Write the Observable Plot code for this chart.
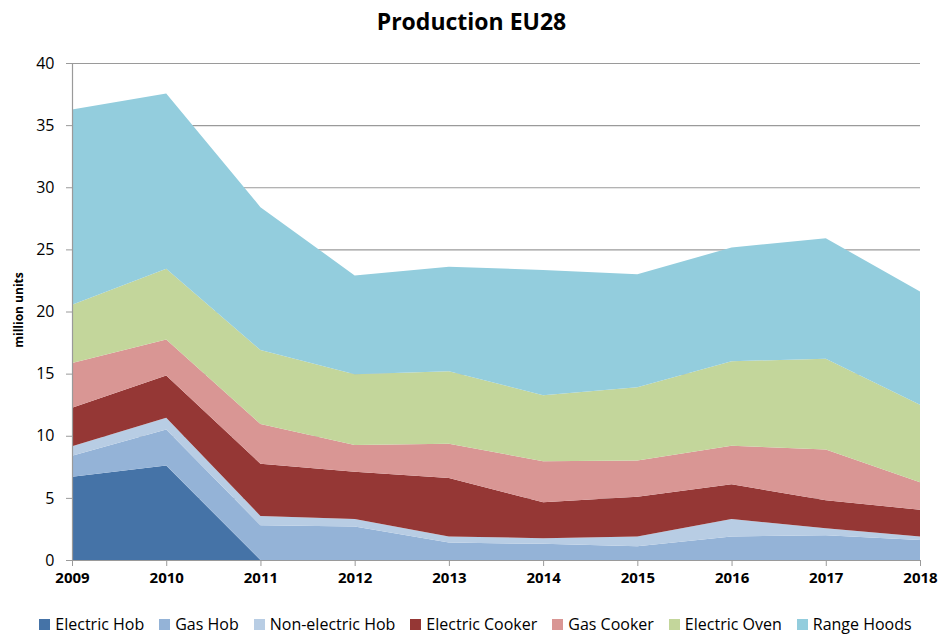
<!DOCTYPE html>
<html>
<head>
<meta charset="utf-8">
<script src="https://cdn.jsdelivr.net/npm/d3@7"></script>
<script src="https://cdn.jsdelivr.net/npm/@observablehq/plot@0.6"></script>
<style>
  body { margin: 0; background: #fff; font-family: "Open Sans", sans-serif; }
  #wrap { position: relative; width: 943px; height: 634px; overflow: hidden; }
  #title { position: absolute; top: 5px; left: 0; width: 943px; text-align: center; font-size: 23px; font-weight: bold; color: #000; }
  #chart { position: absolute; top: 40px; left: 0; }
  #legend { position: absolute; top: 615px; left: 0; width: 943px; height: 18px; display: flex; justify-content: center; gap: 15px; font-size: 16px; line-height: 18px; color: #000; padding-left: 8px; box-sizing: border-box;}
  .item { display: flex; align-items: center; gap: 5px; white-space: nowrap; }
  .sw { width: 11px; height: 11px; display: inline-block; }
  #ylab { position: absolute; left: 18px; top: 310px; transform: translate(-50%, -50%) rotate(-90deg); font-size: 12px; font-weight: bold; white-space: nowrap; }
</style>
</head>
<body>
<div id="wrap">
  <div id="title">Production EU28</div>
  <div id="ylab">million units</div>
  <div id="chart"></div>
  <div id="legend"></div>
</div>
<script>
const years = [2009, 2010, 2011, 2012, 2013, 2014, 2015, 2016, 2017, 2018];
const seriesNames = ["Electric Hob", "Gas Hob", "Non-electric Hob", "Electric Cooker", "Gas Cooker", "Electric Oven", "Range Hoods"];
const colors = ["#4573a7", "#94b3d7", "#b8cde4", "#953735", "#d99694", "#c3d69b", "#93cddd"];

const electricHob     = [6.7, 7.6, 0, 0, 0, 0, 0, 0, 0, 0];
const gasHob          = [1.7, 2.9, 2.8, 2.7, 1.4, 1.3, 1.1, 1.9, 2.0, 1.6];
const nonElectricHob  = [0.75, 0.95, 0.75, 0.6, 0.5, 0.45, 0.8, 1.4, 0.55, 0.3];
const electricCooker  = [3.1, 3.4, 4.2, 3.8, 4.7, 2.9, 3.2, 2.8, 2.25, 2.15];
const gasCooker       = [3.6, 2.9, 3.2, 2.15, 2.75, 3.3, 2.9, 3.1, 4.1, 2.2];
const electricOven    = [4.7, 5.7, 5.95, 5.7, 5.85, 5.3, 5.9, 6.8, 7.3, 6.25];
const rangeHoods      = [15.7, 14.1, 11.5, 7.95, 8.4, 10.1, 9.1, 9.15, 9.7, 9.1];

const seriesValues = [electricHob, gasHob, nonElectricHob, electricCooker, gasCooker, electricOven, rangeHoods];
const yTicks = [0, 5, 10, 15, 20, 25, 30, 35, 40];

const data = [];
seriesNames.forEach((name, i) => {
  years.forEach((yr, j) => data.push({ year: yr, series: name, value: seriesValues[i][j] }));
});

const chart = Plot.plot({
  width: 943,
  height: 560,
  marginLeft: 72,
  marginRight: 23,
  marginTop: 23,
  marginBottom: 40,
  style: { fontFamily: "Open Sans, sans-serif", fontSize: "14px", color: "#000" },
  x: { type: "linear", domain: [2009, 2018], label: null },
  y: { domain: [0, 40], label: null },
  color: { domain: seriesNames, range: colors },
  marks: [
    Plot.gridY(yTicks, { stroke: "#9a9a9a", strokeOpacity: 1, strokeWidth: 1.2 }),
    Plot.areaY(data, { x: "year", y: "value", z: "series", fill: "series", order: seriesNames, fillOpacity: 1 }),
    Plot.ruleX([2009], { stroke: "#9a9a9a", strokeWidth: 1.2 }),
    Plot.ruleY([0], { stroke: "#9a9a9a", strokeWidth: 1.2 }),
    Plot.axisY(yTicks, { tickSize: 6, tickPadding: 12, stroke: "#9a9a9a", fontSize: 16 }),
    Plot.axisX(years, { tickSize: 6, tickPadding: 6, tickFormat: d => String(d), stroke: "#9a9a9a", fontSize: 15, fontWeight: "bold" })
  ]
});
document.getElementById("chart").appendChild(chart);

const legend = document.getElementById("legend");
seriesNames.forEach((name, i) => {
  const it = document.createElement("div");
  it.className = "item";
  const sw = document.createElement("span");
  sw.className = "sw";
  sw.style.background = colors[i];
  const t = document.createElement("span");
  t.textContent = name;
  it.appendChild(sw);
  it.appendChild(t);
  legend.appendChild(it);
});
</script>
</body>
</html>
